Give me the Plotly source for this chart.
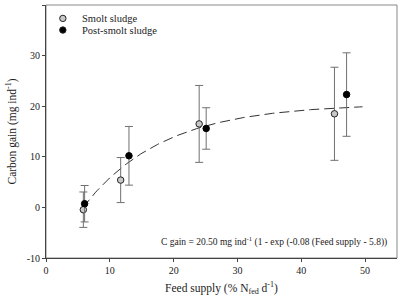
import numpy as np
import plotly.graph_objects as go

# Data
smolt_x = [5.85, 11.7, 24.0, 45.2]
smolt_y = [-0.45, 5.4, 16.5, 18.5]
smolt_err = [3.5, 4.45, 7.6, 9.2]

post_x = [6.05, 13.0, 25.1, 47.1]
post_y = [0.73, 10.2, 15.6, 22.3]
post_err = [3.6, 5.8, 4.1, 8.25]

# Fit model shown in the chart annotation
fit_a, fit_k, fit_x0 = 20.50, 0.08, 5.8
fit_xmin, fit_xmax = 5.8, 49.6

x_ticks = [0, 10, 20, 30, 40, 50]
y_ticks = [-10, 0, 10, 20, 30, 40]
y_tick_labels = ["-10", "0", "10", "20", "30", "40"]

series_names = ["Smolt sludge", "Post-smolt sludge"]
series_fill = ["#c8c8c8", "#000000"]

font_family = "Liberation Serif"

fit_x = np.linspace(fit_xmin, fit_xmax, 200)
fit_y = fit_a * (1 - np.exp(-fit_k * (fit_x - fit_x0)))

fig = go.Figure()
fig.add_trace(go.Scatter(
    x=fit_x, y=fit_y, mode="lines",
    line=dict(color="#333333", width=1, dash="10px,5px"),
    showlegend=False, hoverinfo="skip"))

fig.add_trace(go.Scatter(
    x=smolt_x, y=smolt_y, mode="markers", name=series_names[0], showlegend=False,
    marker=dict(color=series_fill[0], size=6.5, line=dict(color="#222222", width=1)),
    error_y=dict(type="data", array=smolt_err, color="#707070", thickness=1, width=4)))

fig.add_trace(go.Scatter(
    x=post_x, y=post_y, mode="markers", name=series_names[1], showlegend=False,
    marker=dict(color=series_fill[1], size=6.5, line=dict(color="#000000", width=1)),
    error_y=dict(type="data", array=post_err, color="#707070", thickness=1, width=4)))

# Manual legend (symbols + labels) in the top-left corner
legend_shapes = []
legend_annots = []
legend_rows = [0.947, 0.901]
for name, fill, yc in zip(series_names, series_fill, legend_rows):
    legend_shapes.append(dict(
        type="circle", xref="paper", yref="paper", xsizemode="pixel", ysizemode="pixel",
        xanchor=0.048, yanchor=yc, x0=-3.2, x1=3.2, y0=-3.2, y1=3.2,
        fillcolor=fill, line=dict(color="#222222", width=1)))
    legend_annots.append(dict(
        x=0.097, y=yc, xref="paper", yref="paper", xanchor="left", yanchor="middle",
        text=name, showarrow=False, font=dict(size=10.5, color="#222222")))

fig.update_layout(
    width=400, height=307,
    margin=dict(l=46, r=3, t=5, b=49),
    paper_bgcolor="white", plot_bgcolor="white",
    font=dict(family=font_family, size=10, color="#222222"),
    showlegend=False,
    shapes=[dict(type="rect", xref="paper", yref="paper", x0=0, y0=0, x1=1, y1=1,
                 line=dict(color="#888888", width=1), layer="below")] + legend_shapes,
    annotations=[dict(
        x=0.977, y=0.065, xref="paper", yref="paper", xanchor="right", yanchor="middle",
        text="C gain = 20.50 mg ind<sup>-1</sup> (1 - exp (-0.08 (Feed supply - 5.8))",
        showarrow=False, font=dict(size=9.5, color="#222222"))] + legend_annots,
)

fig.update_xaxes(
    range=[0, 55], tickvals=x_ticks, showgrid=False, zeroline=False,
    showline=True, linecolor="#444444", linewidth=1, automargin=False,
    ticks="outside", ticklen=3, tickcolor="#444444",
    title=dict(text="Feed supply (% N<sub>fed</sub> d<sup>-1</sup>)",
               font=dict(size=11.5), standoff=8))
fig.update_yaxes(
    range=[-10, 40], tickvals=y_ticks, ticktext=y_tick_labels,
    showgrid=False, zeroline=False,
    showline=True, linecolor="#444444", linewidth=1, automargin=False,
    ticks="outside", ticklen=3, tickcolor="#444444",
    title=dict(text="Carbon gain (mg ind<sup>-1</sup>)", font=dict(size=11.5), standoff=7))

fig.write_html(
    "out.html",
    config={"displayModeBar": False, "staticPlot": True},
    post_script="document.body.style.margin='0';document.documentElement.style.overflow='hidden';",
)
